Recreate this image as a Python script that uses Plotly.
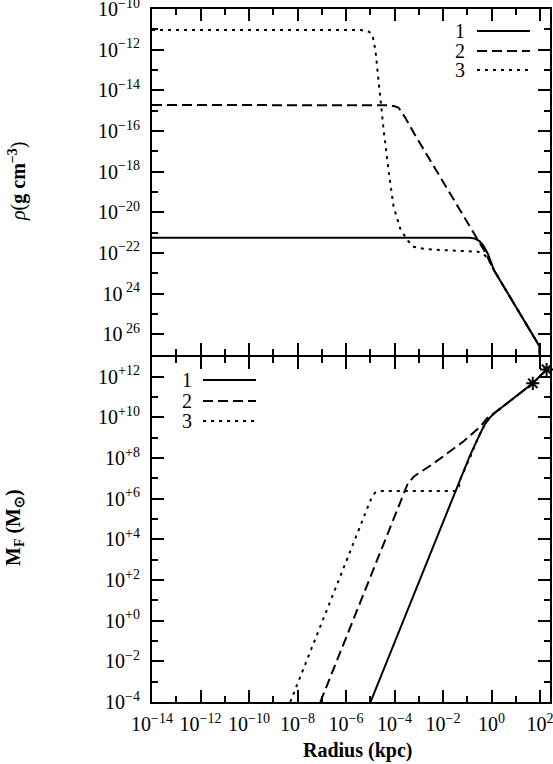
import numpy as np
import plotly.graph_objects as go
from plotly.subplots import make_subplots

# values, stored as log10 (radius in kpc)
# top panel: density rho (g cm^-3)
rho1_logr = [-14, -0.9, -0.7, -0.5, -0.35, -0.15, 0.1, 0.8, 1.9, 1.98, 2.0]
rho1_logv = [-21.25, -21.25, -21.29, -21.42, -21.62, -22.05, -22.85, -24.25, -26.45, -26.6, -28.5]

rho2_logr = [-14, -4.45, -4.2, -4.0, -3.83, -3.55, -3.21, -0.74, -0.32, 0.1, 0.8, 1.9, 1.98, 2.0]
rho2_logv = [-14.72, -14.72, -14.74, -14.78, -14.86, -15.36, -16.09, -21.01, -21.84, -22.85, -24.25, -26.45, -26.6, -28.5]

rho3_logr = [-14, -5.4, -5.05, -4.91, -4.79, -4.58, -4.45, -4.25, -4.04, -3.75, -3.45, -3.21, -2.8, -2.39,
             -0.57, -0.35, -0.16, 0.1, 0.8, 1.9, 1.98, 2.0]
rho3_logv = [-11.03, -11.03, -11.12, -11.28, -12.01, -14.47, -15.95, -17.91, -19.73, -20.86, -21.4, -21.7,
             -21.8, -21.84, -21.94, -22.05, -22.24, -22.85, -24.25, -26.45, -26.6, -28.5]

# bottom panel: enclosed mass M_F (Msun)
m1_logr = [-4.99, -1.36, -0.9, -0.65, -0.45, -0.3, -0.1, 0.1, 1.7, 2.27]
m1_logv = [-4.0, 6.8, 8.1, 8.75, 9.25, 9.62, 9.95, 10.2, 11.68, 12.36]

m2_logr = [-7.06, -3.63, -3.46, -3.2, -2.93, -2.5, -1.98, -1.15, -0.45, -0.12, 0.1, 1.7, 2.27]
m2_logv = [-4.0, 6.29, 6.73, 7.1, 7.3, 7.65, 8.1, 8.83, 9.57, 10.06, 10.2, 11.68, 12.36]

m3_logr = [-8.3, -4.95, -4.8, -4.6, -1.48, -1.35, -1.27, -0.86, -0.53, -0.2, 0.1, 1.7, 2.27]
m3_logv = [-4.0, 6.05, 6.3, 6.38, 6.38, 6.6, 7.02, 8.1, 9.08, 9.81, 10.2, 11.68, 12.36]

star_logr = [1.7, 2.27]
star_logv = [11.68, 12.36]

names = ["1", "2", "3"]
dashes = ["solid", "10px,5px", "3px,5px"]

x_major = [-14, -12, -10, -8, -6, -4, -2, 0, 2]
x_labels = ["10<sup>−14</sup>", "10<sup>−12</sup>", "10<sup>−10</sup>", "10<sup>−8</sup>", "10<sup>−6</sup>",
            "10<sup>−4</sup>", "10<sup>−2</sup>", "10<sup>0</sup>", "10<sup>2</sup>"]
rho_major = [-10, -12, -14, -16, -18, -20, -22, -24, -26]
rho_labels = ["10<sup>−10</sup>", "10<sup>−12</sup>", "10<sup>−14</sup>", "10<sup>−16</sup>", "10<sup>−18</sup>",
              "10<sup>−20</sup>", "10<sup>−22</sup>", "10<sup> 24</sup>", "10<sup> 26</sup>"]
m_major = [12, 10, 8, 6, 4, 2, 0, -2, -4]
m_labels = ["10<sup>+12</sup>", "10<sup>+10</sup>", "10<sup>+8</sup>", "10<sup>+6</sup>", "10<sup>+4</sup>",
            "10<sup>+2</sup>", "10<sup>+0</sup>", "10<sup>−2</sup>", "10<sup>−4</sup>"]

FONT = "Liberation Serif"
FS = 20

W, H, L, R, T, B = 553, 764, 152, 3, 9, 62
PW, PH = W - L - R, H - T - B
GAP = 2.0 / PH


def p10(a):
    return 10.0 ** np.array(a, dtype=float)


fig = make_subplots(rows=2, cols=1, shared_xaxes=True, vertical_spacing=GAP)

rho_sets = [(rho1_logr, rho1_logv), (rho2_logr, rho2_logv), (rho3_logr, rho3_logv)]
m_sets = [(m1_logr, m1_logv), (m2_logr, m2_logv), (m3_logr, m3_logv)]

for (lr, lv), nm, d in zip(rho_sets, names, dashes):
    fig.add_trace(go.Scatter(x=p10(lr), y=p10(lv), mode="lines", name=nm,
                             line=dict(color="black", width=2, dash=d)), row=1, col=1)
for (lr, lv), nm, d in zip(m_sets, names, dashes):
    fig.add_trace(go.Scatter(x=p10(lr), y=p10(lv), mode="lines", name=nm,
                             line=dict(color="black", width=2, dash=d)), row=2, col=1)
fig.add_trace(go.Scatter(x=p10(star_logr), y=p10(star_logv), mode="markers",
                         marker=dict(symbol="asterisk-open", size=11, color="black",
                                     line=dict(color="black", width=2)),
                         cliponaxis=False), row=2, col=1)

ax_common = dict(showline=True, linewidth=2, linecolor="black", mirror="ticks",
                 ticks="inside", ticklen=12, tickwidth=2, tickcolor="black",
                 showgrid=False, zeroline=False, automargin=False, ticklabeloverflow="allow",
                 tickfont=dict(family=FONT, size=FS, color="black"))

xminor = dict(tickvals=list(p10(range(-13, 3, 2))), ticklen=6, tickwidth=2, tickcolor="black", ticks="inside")
for r in (1, 2):
    fig.update_xaxes(type="log", range=[-14.0001, 2.41], tickmode="array",
                     tickvals=list(p10(x_major)), ticktext=x_labels,
                     minor=xminor, showticklabels=(r == 2), ticklabelstandoff=3,
                     row=r, col=1, **ax_common)

fig.update_yaxes(type="log", range=[-27, -9.9999], tickmode="array",
                 tickvals=list(p10(rho_major)), ticktext=rho_labels,
                 minor=dict(tickvals=list(p10(range(-27, -10, 2))), ticklen=6, tickwidth=2,
                            tickcolor="black", ticks="inside"),
                 ticklabelstandoff=6, row=1, col=1, **ax_common)
fig.update_yaxes(type="log", range=[-4.0001, 13], tickmode="array",
                 tickvals=list(p10(m_major)), ticktext=m_labels,
                 minor=dict(tickvals=list(p10(range(-3, 14, 2))), ticklen=6, tickwidth=2,
                            tickcolor="black", ticks="inside"),
                 ticklabelstandoff=6, row=2, col=1, **ax_common)


# helpers: window pixel -> paper coords
def px(x):
    return (x - L) / PW


def py(y):
    return (H - B - y) / PH


legend_spots = [(467, 477, 530, [31, 51, 70], "right"), (187, 203, 256, [380, 401, 421], "center")]
for tx, lx0, lx1, ys, anchor in legend_spots:
    for nm, d, yy in zip(names, dashes, ys):
        fig.add_annotation(x=px(tx), y=py(yy), xref="paper", yref="paper", text=nm, showarrow=False,
                           xanchor=anchor, yanchor="middle",
                           font=dict(family=FONT, size=FS, color="black"))
        fig.add_shape(type="line", xref="paper", yref="paper", x0=px(lx0), x1=px(lx1),
                      y0=py(yy), y1=py(yy), line=dict(color="black", width=2, dash=d))

fig.add_annotation(x=px(17), y=py(182), xref="paper", yref="paper", textangle=-90, showarrow=False,
                   xanchor="center", yanchor="middle",
                   text="<i>ρ</i>(<b>g cm</b><sup><b>−3</b></sup>)",
                   font=dict(family=FONT, size=FS, color="black"))
fig.add_annotation(x=px(14), y=py(528), xref="paper", yref="paper", textangle=-90, showarrow=False,
                   xanchor="center", yanchor="middle",
                   text="<b>M<sub>F</sub> (M<sub>⊙</sub>)</b>",
                   font=dict(family=FONT, size=FS, color="black"))
fig.add_annotation(x=px(357), y=py(750), xref="paper", yref="paper", showarrow=False,
                   xanchor="center", yanchor="middle",
                   text="<b>Radius (kpc)</b>", font=dict(family=FONT, size=FS, color="black"))

fig.update_layout(width=W, height=H, margin=dict(l=L, r=R, t=T, b=B),
                  plot_bgcolor="white", paper_bgcolor="white", showlegend=False,
                  font=dict(family=FONT, size=FS, color="black"))

# drop the default 8px body margin so the figure fills the window
fig.write_html("out.html", config={"displayModeBar": False},
               post_script="document.body.style.margin='0';")
